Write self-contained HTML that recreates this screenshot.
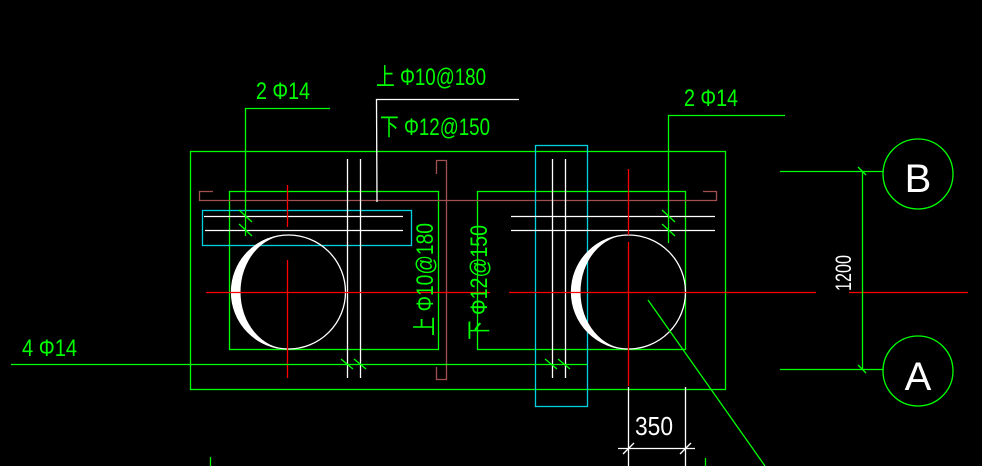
<!DOCTYPE html>
<html><head><meta charset="utf-8"><style>html,body{margin:0;padding:0;background:#000;}svg{display:block}</style></head>
<body>
<svg width="982" height="466" viewBox="0 0 982 466" xmlns="http://www.w3.org/2000/svg" font-family="Liberation Sans, Noto Sans CJK SC, sans-serif">
<rect width="982" height="466" fill="#000"/>
<g fill="none" stroke-width="1.3">
<rect x="190.5" y="151.5" width="535" height="238" stroke="#00ff00"/>
<rect x="229.5" y="191.5" width="209" height="158" stroke="#00ff00"/>
<rect x="477.5" y="191.5" width="208" height="158" stroke="#00ff00"/>
<polyline points="213,191.5 199.5,191.5 199.5,200.5 716.5,200.5 716.5,191.5 703,191.5" stroke="#a05050"/>
<polyline points="436.5,174 436.5,160.5 446.5,160.5 446.5,379.5 436.5,379.5 436.5,367" stroke="#a05050"/>
<rect x="202.5" y="210.5" width="209" height="35" stroke="#00d0e0"/>
<rect x="535.5" y="145.5" width="52" height="261" stroke="#00d0e0"/>
<g stroke="#fff">
<line x1="204" y1="216.5" x2="403" y2="216.5"/><line x1="205" y1="230.5" x2="403" y2="230.5"/>
<line x1="347.5" y1="159" x2="347.5" y2="378"/><line x1="360.5" y1="159" x2="360.5" y2="378"/>
<line x1="511" y1="216.5" x2="715" y2="216.5"/><line x1="511" y1="230.5" x2="715" y2="230.5"/>
<line x1="552.5" y1="159" x2="552.5" y2="378"/><line x1="565.5" y1="159" x2="565.5" y2="378"/>
<polyline points="377,202 376.5,99.5 519,99.5"/>
<circle cx="288.5" cy="292" r="57"/>
<circle cx="628.5" cy="292" r="57"/>
<line x1="628.5" y1="387" x2="628.5" y2="466"/><line x1="685.5" y1="387" x2="685.5" y2="466"/>
<line x1="618" y1="448.5" x2="695" y2="448.5"/>
<line x1="623" y1="454" x2="634" y2="443"/><line x1="680" y1="454" x2="691" y2="443"/>
</g>
<path d="M288.5,235 A57,57 0 0 0 288.5,349 A48,57 0 0 1 288.5,235 Z" fill="#fff" stroke="none"/>
<path d="M628.5,235 A57,57 0 0 0 628.5,349 A48,57 0 0 1 628.5,235 Z" fill="#fff" stroke="none"/>
<g stroke="#ff0000">
<line x1="206" y1="292.5" x2="490" y2="292.5"/><line x1="509" y1="292.5" x2="816" y2="292.5"/><line x1="849" y1="292.5" x2="968" y2="292.5"/>
<line x1="287.5" y1="185" x2="287.5" y2="227"/><line x1="287.5" y1="260" x2="287.5" y2="378"/>
<line x1="628.5" y1="169" x2="628.5" y2="235"/><line x1="628.5" y1="242" x2="628.5" y2="386"/>
</g>
<g stroke="#00ff00">
<line x1="11" y1="364.5" x2="587" y2="364.5"/>
<polyline points="330,108.5 245.5,108.5 245.5,236"/>
<polyline points="785,115.5 668.5,115.5 668.5,243"/>
<line x1="239" y1="210" x2="252" y2="222"/><line x1="239" y1="224" x2="252" y2="236"/>
<line x1="662" y1="210" x2="675" y2="222"/><line x1="662" y1="224" x2="675" y2="236"/>
<line x1="341" y1="359" x2="353" y2="369"/><line x1="354" y1="359" x2="366" y2="369"/>
<line x1="545" y1="359" x2="557" y2="369"/><line x1="558" y1="359" x2="570" y2="369"/>
<line x1="780" y1="171.5" x2="883" y2="171.5"/><line x1="780" y1="369.5" x2="883" y2="369.5"/>
<line x1="862.5" y1="171" x2="862.5" y2="369"/>
<line x1="858" y1="167" x2="866" y2="175"/><line x1="858" y1="365" x2="866" y2="373"/>
<circle cx="918" cy="174" r="35"/><circle cx="918" cy="371" r="35"/>
<line x1="648" y1="300" x2="765" y2="466"/>
<line x1="210.5" y1="457" x2="210.5" y2="466"/><line x1="705.5" y1="458" x2="705.5" y2="466"/>
</g>
</g>
<g fill="#00ff00" font-size="24">
<text x="256" y="99" textLength="54" lengthAdjust="spacingAndGlyphs">2 Φ14</text>
<text x="684" y="106" textLength="54" lengthAdjust="spacingAndGlyphs">2 Φ14</text>
<text x="22" y="356" textLength="55" lengthAdjust="spacingAndGlyphs">4 Φ14</text>
<text x="376" y="85" textLength="110" lengthAdjust="spacingAndGlyphs">上 Φ10@180</text>
<text x="380" y="135" textLength="110" lengthAdjust="spacingAndGlyphs">下 Φ12@150</text>
<text transform="translate(433,336) rotate(-90)" textLength="113" lengthAdjust="spacingAndGlyphs">上 Φ10@180</text>
<text transform="translate(487,340) rotate(-90)" textLength="115" lengthAdjust="spacingAndGlyphs">下 Φ12@150</text>
</g>
<g fill="#fff">
<text x="635" y="435" font-size="26" textLength="38" lengthAdjust="spacingAndGlyphs">350</text>
<text transform="translate(851,291) rotate(-90)" font-size="22" textLength="36" lengthAdjust="spacingAndGlyphs">1200</text>
<text x="918" y="192" font-size="40" text-anchor="middle">B</text>
<text x="918" y="390" font-size="40" text-anchor="middle">A</text>
</g>
</svg>
</body></html>
